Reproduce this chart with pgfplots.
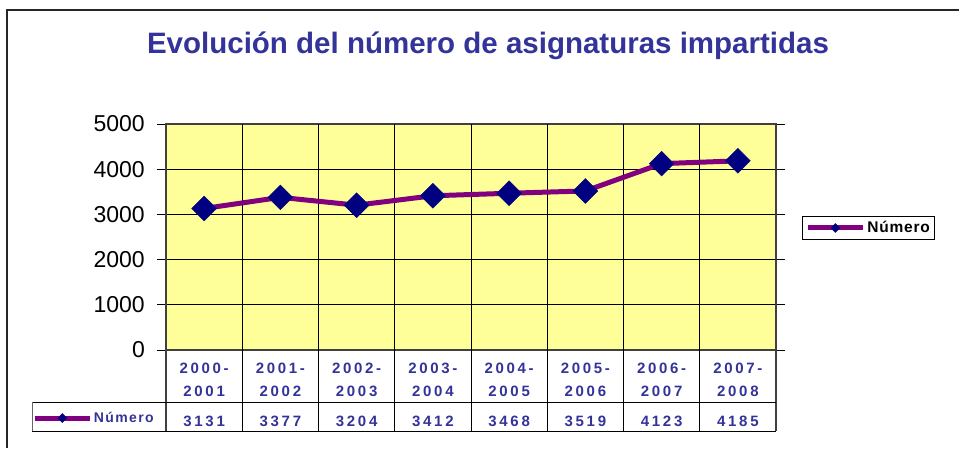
\documentclass[border=0pt]{standalone}
\usepackage{pgfplots}
\pgfplotsset{compat=1.18}
\usepackage{fontspec}
\setmainfont{Liberation Sans}
\newfontfamily\spaced{Liberation Sans}[LetterSpace=18]
\newfontfamily\spacedl{Liberation Sans}[LetterSpace=5]
\newfontfamily\spacedm{Liberation Sans}[LetterSpace=10]
\definecolor{navytext}{HTML}{333399}
\definecolor{xlpurple}{HTML}{800080}
\definecolor{xlnavy}{HTML}{000080}
\definecolor{xlyellow}{HTML}{FFFF99}
\pgfplotsset{
  xlkey/.style={legend image code/.code={
    \draw[##1, mark size=3.2pt, mark indices={2}] plot coordinates {(0pt,0pt) (27.5pt,0pt) (55pt,0pt)};}},
  xlstyle/.style={xlpurple, line width=5pt, mark=square*,
    mark options={solid, fill=xlnavy, draw=xlnavy, rotate=45, line width=0.4pt}}
}
\begin{document}
\begin{tikzpicture}
\path[use as bounding box] (0,0) rectangle (959pt,448pt);
\fill[white] (0,0) rectangle (959pt,448pt);
\draw[line width=1.5pt, black!85] (7pt,0pt) -- (7pt,438pt) -- (959pt,438pt);
\node[font=\fontsize{29.5}{34}\selectfont\bfseries, text=navytext] at (488pt,402pt) {Evolución del número de asignaturas impartidas};

\begin{axis}[
  at={(166pt,98pt)}, anchor=south west,
  scale only axis, width=610pt, height=226pt,
  xmin=-0.5, xmax=7.5, ymin=0, ymax=5000,
  clip=false,
  axis background/.style={fill=xlyellow},
  axis line style={draw=black!75, line width=1.2pt},
  ytick={0,1000,2000,3000,4000,5000},
  scaled y ticks=false,
  yticklabel style={font=\fontsize{23}{27}\selectfont, /pgf/number format/assume math mode=true,
     /pgf/number format/1000 sep={}, anchor=east, inner sep=0pt, xshift=-12pt},
  ymajorgrids, grid style={black, line width=0.8pt},
  tick align=outside, major tick length=9pt,
  major tick style={black, line width=0.8pt},
  major x tick style={draw=none},
  xtick={0,1,2,3,4,5,6,7},
  xticklabels={2000-\\2001\\[6.4pt]3131,
               2001-\\2002\\[6.4pt]3377,
               2002-\\2003\\[6.4pt]3204,
               2003-\\2004\\[6.4pt]3412,
               2004-\\2005\\[6.4pt]3468,
               2005-\\2006\\[6.4pt]3519,
               2006-\\2007\\[6.4pt]4123,
               2007-\\2008\\[6.4pt]4185},
  xticklabel style={font=\spaced\bfseries\fontsize{15}{23.6}\selectfont, text=navytext,
     align=center, anchor=north, inner sep=0pt, yshift=-3.6pt},
  xlkey,
  legend style={at={(1.0426,0.540)}, anchor=west, draw=black, line width=0.8pt,
     font=\spacedl\bfseries\fontsize{15.5}{18}\selectfont, inner xsep=3pt, inner ysep=3pt},
]
\pgfplotsinvokeforeach{0.5,1.5,2.5,3.5,4.5,5.5,6.5}{
  \draw[black, line width=0.8pt] (axis cs:#1,5000) -- ([yshift=-81pt]axis cs:#1,0);
}
\draw[black!75, line width=1.2pt] (axis cs:-0.5,0) -- ([yshift=-81pt]axis cs:-0.5,0);
\draw[black!75, line width=1.2pt] (axis cs:7.5,0) -- ([yshift=-81pt]axis cs:7.5,0);
\draw[black, line width=0.8pt] ([xshift=-134pt,yshift=-52pt]axis cs:-0.5,0) -- ([yshift=-52pt]axis cs:7.5,0);
\draw[black, line width=0.8pt] ([xshift=-134pt,yshift=-81pt]axis cs:-0.5,0) -- ([yshift=-81pt]axis cs:7.5,0);
\draw[black!60, line width=0.8pt] ([xshift=-134pt,yshift=-52pt]axis cs:-0.5,0) -- ([xshift=-134pt,yshift=-81pt]axis cs:-0.5,0);
\addplot[xlstyle, mark size=8.8pt] coordinates {
  (0,3131) (1,3377) (2,3204) (3,3412) (4,3468) (5,3519) (6,4123) (7,4185)};
\addlegendentry{Número}
\end{axis}

\begin{axis}[
  at={(166pt,98pt)}, anchor=south west,
  scale only axis, width=610pt, height=226pt,
  hide axis, xmin=0, xmax=1, ymin=0, ymax=1,
  xlkey,
  legend style={at={(-0.2195,-0.3009)}, anchor=west, draw=none, fill=none,
     font=\spacedm\bfseries\fontsize{14}{17}\selectfont, text=navytext, inner xsep=0pt, inner ysep=0pt,
     nodes={inner xsep=1.5pt}},
]
\addlegendimage{xlstyle}
\addlegendentry{Número}
\end{axis}
\end{tikzpicture}
\end{document}
